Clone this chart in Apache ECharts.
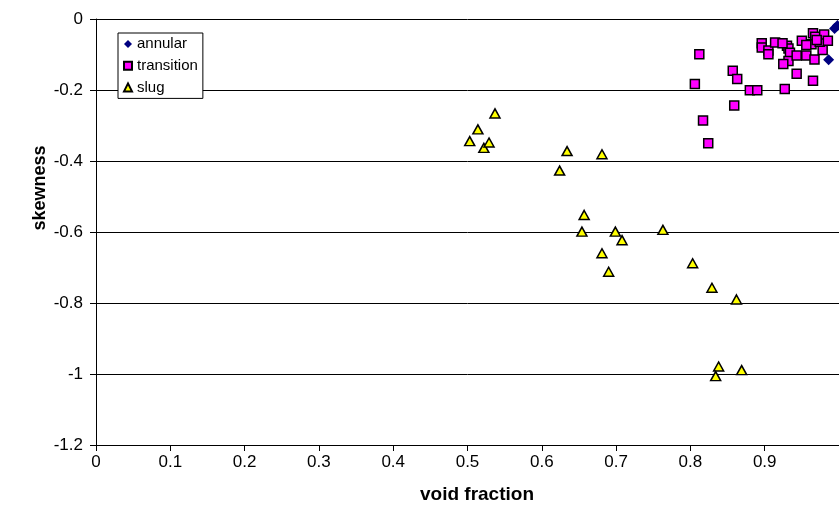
<!DOCTYPE html>
<html>
<head>
<meta charset="utf-8">
<script src="https://cdn.jsdelivr.net/npm/echarts@6/dist/echarts.min.js"></script>
<style>
  html, body { margin: 0; padding: 0; background: #fff; }
  #chart { width: 839px; height: 506px; }
</style>
</head>
<body>
<div id="chart"></div>
<script>
// values
var annularX = [0.994, 0.986, 0.998];
var annularY = [-0.027, -0.115, -0.018];

var transitionX = [0.812, 0.806, 0.817, 0.824, 0.857, 0.863, 0.859, 0.880, 0.890, 0.896,
                   0.896, 0.905, 0.905, 0.914, 0.930, 0.932, 0.934, 0.932, 0.925, 0.943,
                   0.956, 0.943, 0.927, 0.965, 0.967, 0.978, 0.950, 0.965, 0.968, 0.963,
                   0.974, 0.980, 0.985, 0.970, 0.956, 0.924];
var transitionY = [-0.099, -0.183, -0.286, -0.350, -0.146, -0.169, -0.244, -0.201, -0.201, -0.068,
                   -0.080, -0.089, -0.099, -0.066, -0.075, -0.083, -0.095, -0.118, -0.127, -0.103,
                   -0.103, -0.154, -0.197, -0.174, -0.114, -0.087, -0.061, -0.040, -0.050, -0.071,
                   -0.064, -0.044, -0.061, -0.059, -0.073, -0.068];

var slugX = [0.503, 0.514, 0.522, 0.529, 0.537, 0.624, 0.634, 0.681, 0.657, 0.654,
             0.699, 0.708, 0.763, 0.681, 0.690, 0.803, 0.829, 0.862, 0.838, 0.834, 0.869];
var slugY = [-0.344, -0.311, -0.363, -0.348, -0.266, -0.427, -0.372, -0.381, -0.552, -0.599,
             -0.599, -0.623, -0.594, -0.660, -0.712, -0.688, -0.757, -0.790, -0.979, -1.006, -0.989];

var xTicks = [0, 1, 0.1];      // min, max, interval
var yTicks = [-1.2, 0, 0.2];

function zip(xs, ys) {
    return xs.map(function (x, i) { return [x, ys[i]]; });
}

var font = "'Liberation Sans', Arial, sans-serif";
var chart = echarts.init(document.getElementById("chart"));

chart.setOption({
    animation: false,
    backgroundColor: "#fff",
    grid: {
        left: 96,
        top: 19,
        width: 747,   // right edge sits just past the window, as in the original
        height: 426
    },
    legend: {
        left: 118,
        top: 33,
        orient: "vertical",
        backgroundColor: "#fff",
        borderColor: "#000",
        borderWidth: 1,
        borderRadius: 0,
        padding: [3, 5, 3, 5],
        itemWidth: 8,
        itemHeight: 8,
        itemGap: 5.7,
        textStyle: {
            fontFamily: font,
            fontSize: 15,
            lineHeight: 16,
            color: "#000"
        },
        data: [
            { name: "annular", icon: "diamond" },
            { name: "transition", icon: "rect" },
            { name: "slug", icon: "triangle" }
        ]
    },
    xAxis: {
        type: "value",
        min: xTicks[0],
        max: xTicks[1],
        interval: xTicks[2],
        axisLine: { show: true, onZero: false, lineStyle: { color: "#000", width: 1 } },
        axisTick: { show: true, length: 6, lineStyle: { color: "#000" } },
        splitLine: { show: false },
        axisLabel: {
            margin: 9,
            color: "#000",
            fontFamily: font,
            fontSize: 17,
            showMaxLabel: false
        }
    },
    yAxis: {
        type: "value",
        min: yTicks[0],
        max: yTicks[1],
        interval: yTicks[2],
        axisLine: { show: true, onZero: false, lineStyle: { color: "#000", width: 1 } },
        axisTick: { show: true, length: 6, lineStyle: { color: "#000" } },
        splitLine: { show: true, lineStyle: { color: "#000", width: 1 } },
        axisLabel: {
            margin: 13,
            color: "#000",
            fontFamily: font,
            fontSize: 17
        }
    },
    graphic: [
        {
            type: "text",
            x: 477,
            y: 495,
            style: {
                text: "void fraction",
                font: "bold 19px " + font,
                fill: "#000",
                align: "center",
                verticalAlign: "middle"
            }
        },
        {
            type: "text",
            x: 40,
            y: 188,
            rotation: Math.PI / 2,
            style: {
                text: "skewness",
                font: "bold 18px " + font,
                fill: "#000",
                align: "center",
                verticalAlign: "middle"
            }
        }
    ],
    series: [
        {
            name: "annular",
            type: "scatter",
            symbol: "diamond",
            symbolSize: 11,
            itemStyle: { color: "#000080", opacity: 1 },
            data: zip(annularX, annularY)
        },
        {
            name: "transition",
            type: "scatter",
            symbol: "rect",
            symbolSize: 9,
            itemStyle: { color: "#ff00ff", borderColor: "#000", borderWidth: 1.5, opacity: 1 },
            data: zip(transitionX, transitionY)
        },
        {
            name: "slug",
            type: "scatter",
            symbol: "triangle",
            symbolSize: [10, 9],
            itemStyle: { color: "#ffff00", borderColor: "#000", borderWidth: 1.5, opacity: 1 },
            data: zip(slugX, slugY)
        }
    ]
});
</script>
</body>
</html>
